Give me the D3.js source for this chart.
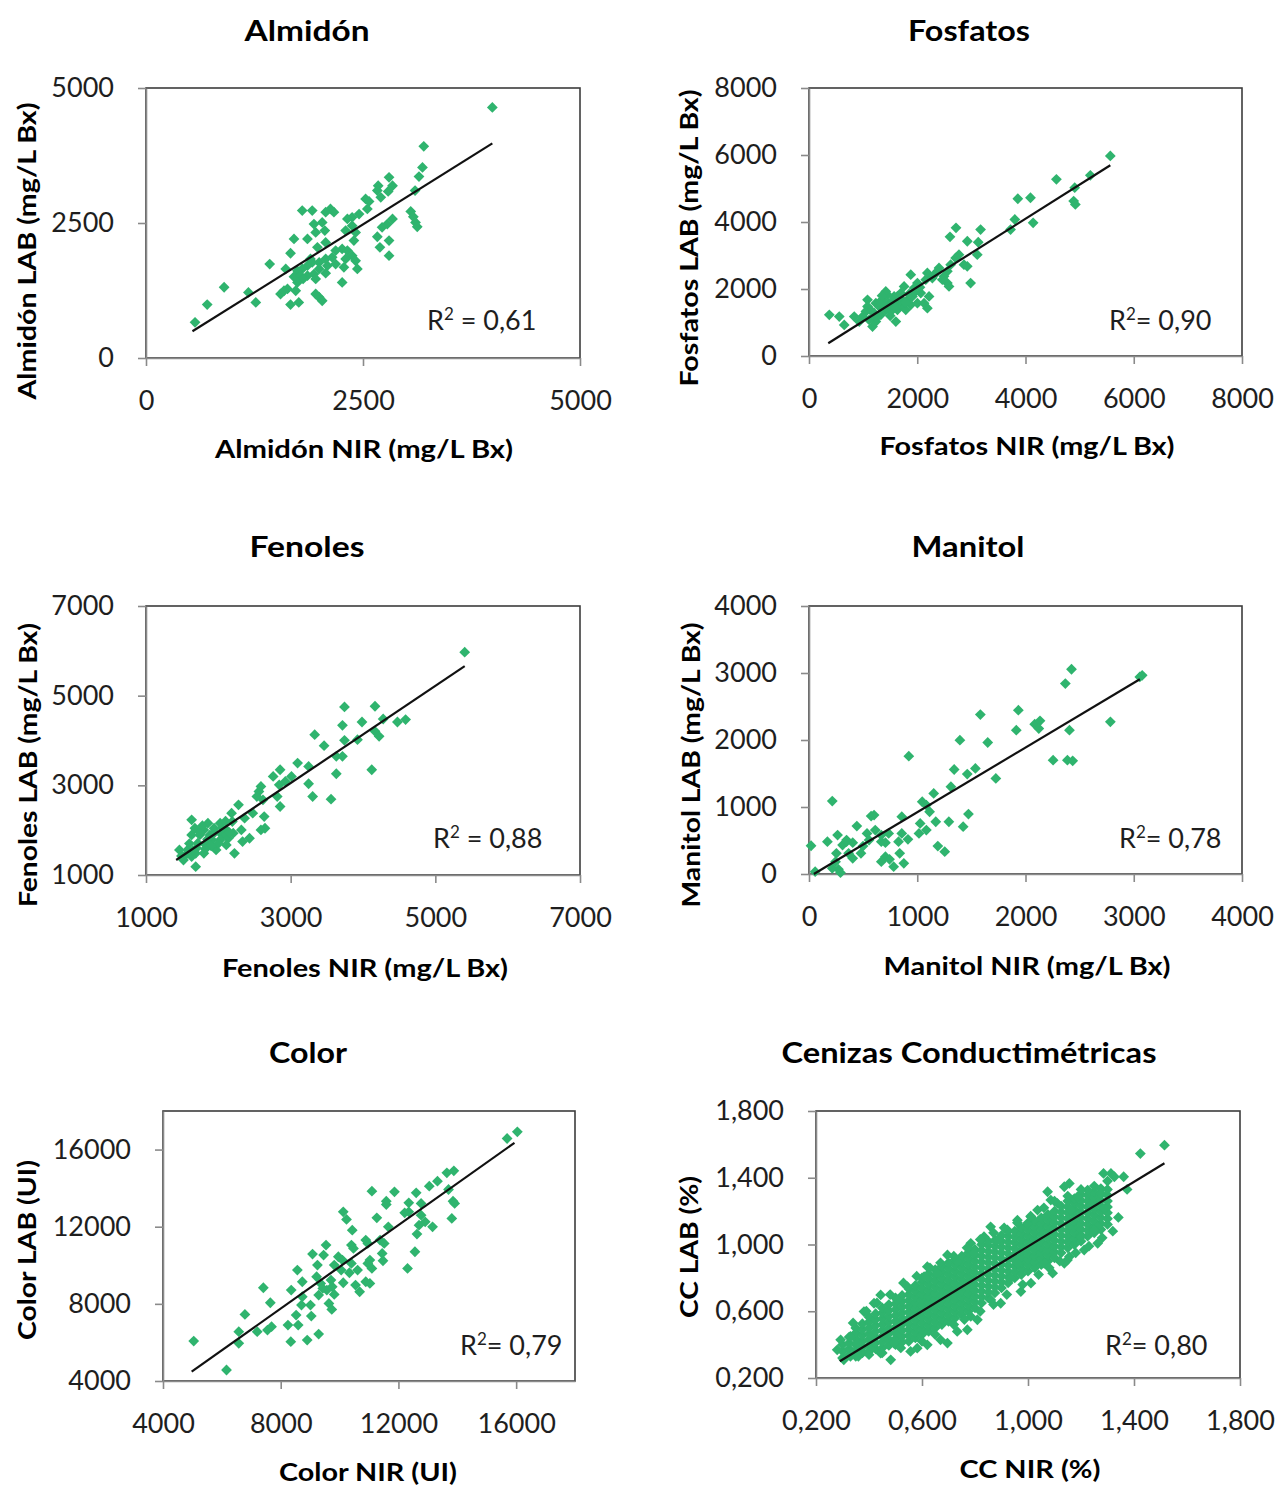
<!DOCTYPE html>
<html>
<head>
<meta charset="utf-8">
<script src="https://cdn.jsdelivr.net/npm/d3@7"></script>
<style>
  body { margin: 0; background: #fff; }
  svg { display: block; font-family: Lato, "Open Sans", sans-serif; white-space: pre; }
</style>
</head>
<body>
<div id="chart"></div>
<script>
// ---- data: [NIR, LAB] pairs ----
const almidonPts = [[3990,4640],[3200,3920],[3185,3530],[3145,3360],[3100,3100],[3050,2715],[3080,2615],[3105,2510],[3125,2430],[2800,3345],[2840,3190],[2790,3085],[2675,3190],[2665,3100],[2705,2975],[2530,2945],[2570,2900],[2840,2575],[2780,2480],[2720,2420],[2665,2245],[2800,2175],[2695,2050],[2800,1895],[2550,2760],[2455,2665],[2375,2605],[2320,2575],[2375,2450],[2415,2325],[2300,2360],[2395,2175],[2260,2020],[2320,1990],[2375,1895],[2300,1835],[2415,1800],[2280,1680],[2435,1650],[2260,1400],[2165,2700],[2125,2760],[2070,2700],[2030,2510],[1935,2480],[1955,2325],[2060,2360],[2070,2140],[1975,2050],[1800,2730],[1915,2730],[1860,2205],[1705,2205],[1665,1940],[2185,1990],[2145,1865],[2185,1740],[2090,1710],[1995,1770],[1915,1770],[1860,1710],[1800,1650],[1745,1615],[1610,1650],[1705,1505],[1780,1525],[1860,1525],[1935,1555],[1995,1650],[2070,1570],[1955,1465],[1810,1465],[1745,1400],[1630,1280],[1550,1185],[1590,1245],[1725,1245],[1760,1030],[1665,990],[1955,1185],[1995,1125],[2030,1060],[1425,1740],[1180,1215],[1265,1030],[900,1310],[705,990],[565,660],[2070,1835],[1895,1835]];
const almidonFit = [[535,495],[3990,3975]];

const fosfatosPts = [[5567,5973],[5198,5393],[4571,5273],[4909,5024],[4890,4624],[4921,4524],[3858,4694],[4092,4724],[3803,4075],[3724,3775],[4141,3975],[2716,3825],[2605,3556],[3170,3775],[2925,3426],[3127,3396],[3109,3026],[2771,3026],[2710,2926],[2863,2727],[2924,2677],[2986,2177],[2617,2727],[2556,2527],[2494,2377],[2556,2177],[2587,2077],[2372,2527],[2402,2627],[2187,2477],[2157,2277],[1880,2427],[2003,2177],[1942,2027],[2065,1878],[2218,1778],[2187,1428],[1911,1778],[1819,1678],[1696,1878],[1573,1778],[1511,1578],[1726,1528],[1880,1528],[2003,1578],[1450,1828],[1358,1678],[1297,1478],[1419,1378],[1604,1029],[1204,1278],[1235,1029],[1174,879],[1081,1678],[1081,1478],[1051,1328],[990,1178],[1112,1078],[836,1178],[651,929],[559,1178],[375,1228],[1327,1228],[1511,1328],[1634,1378],[1788,1378],[2126,1578],[2279,2327],[2464,2277],[1757,2077],[1481,1578],[1235,1578],[928,1029],[1634,1778],[1419,1928],[1300,1600],[1400,1500],[1550,1650],[1650,1600],[1700,1700],[1850,1850],[1950,1900],[1150,1350],[1250,1150],[1500,1200],[1600,1450],[1780,1600],[2050,2050],[2300,2400],[1350,1800]];
const fosfatosFit = [[356,380],[5567,5693]];

const fenolesPts = [[5406,5971],[3744,4749],[4166,4764],[3716,4339],[3986,4413],[4279,4480],[4476,4413],[4589,4466],[4166,4205],[4223,4093],[3924,4018],[3744,4003],[3332,4130],[3462,3884],[3631,3646],[3716,3646],[3096,3497],[3248,3422],[3631,3258],[4121,3348],[3011,3199],[2927,3087],[2854,3348],[2758,3199],[3248,3035],[3304,2751],[3558,2692],[2842,3012],[2814,2751],[2854,2528],[2589,2975],[2561,2863],[2532,2751],[2617,2677],[2476,2379],[2634,2304],[2645,2043],[2589,2006],[2279,2565],[2363,2267],[2431,1820],[2318,2006],[2183,2379],[2194,2193],[2206,1932],[2223,1484],[2110,2006],[2025,2155],[2054,1894],[1941,2043],[1856,2155],[1800,2006],[1744,1894],[1676,2043],[1631,2230],[1631,1894],[1716,1708],[1828,1671],[1913,1783],[1969,1559],[1800,1484],[1687,1484],[1631,1410],[1687,1186],[1490,1425],[1462,1559],[1575,1559],[1518,1335],[2025,1783],[2138,1820],[2335,1745],[2110,1671],[1884,1894],[1750,1950],[1850,1800],[1950,1950],[2050,2050],[1700,1600],[1600,1700],[1780,2100],[2100,2200],[2000,1700],[1900,1650],[2150,1950],[1650,1550],[1550,1450],[1820,1580]];
const fenolesFit = [[1417,1335],[5406,5658]];

const manitolPts = [[2425,3056],[2368,2842],[3056,2942],[3078,2966],[2784,2271],[2406,2147],[2255,1699],[2387,1699],[2436,1689],[2085,2236],[2134,2286],[2123,2171],[1934,2445],[1915,2147],[1583,2380],[1651,1963],[1394,1998],[1341,1560],[1462,1491],[1537,1575],[1726,1426],[1311,1302],[922,1759],[1152,1202],[1046,1078],[1084,1029],[1114,929],[1473,894],[1292,780],[1171,780],[1424,706],[857,855],[1027,755],[1084,656],[1016,606],[857,606],[914,517],[827,482],[736,606],[1190,417],[1254,333],[876,159],[782,109],[838,308],[706,258],[668,184],[744,219],[601,879],[574,864],[442,716],[536,606],[612,656],[555,507],[499,417],[668,482],[668,581],[706,467],[404,467],[347,507],[310,432],[366,308],[404,234],[253,308],[245,184],[272,70],[215,84],[291,20],[215,1088],[170,482],[264,581],[19,422],[57,35],[347,482],[480,308]];
const manitolFit = [[45,0],[3056,2907]];

const colorPts = [[16041,16918],[15693,16573],[13883,14897],[13646,14794],[13326,14362],[13048,14103],[13702,13930],[12770,13205],[12352,13239],[12352,12773],[12603,13757],[13855,13326],[13911,13205],[13814,12428],[11865,13809],[11099,13844],[11587,13326],[11587,13153],[12213,12721],[12770,12600],[13160,11996],[12700,12082],[12909,12255],[12630,11616],[12561,10701],[12310,9837],[11266,12462],[10125,12773],[10236,12376],[10431,11823],[11656,11996],[11378,11305],[11517,11133],[10890,11305],[10960,11133],[10403,11046],[10473,10873],[11448,10614],[11475,10234],[11030,10269],[11099,9837],[10960,10096],[10403,10096],[10612,9751],[10334,9613],[10542,8974],[10682,8628],[10890,9146],[11030,9060],[10125,9095],[10097,10269],[9958,10442],[9819,10010],[10055,9751],[9708,9233],[9750,8887],[9819,8490],[9568,8715],[9638,8024],[9735,7713],[9540,11046],[9457,10528],[9248,10010],[9081,10580],[9220,9406],[9359,9060],[9290,8456],[9429,8801],[9011,7938],[9039,7368],[8733,8369],[8705,7938],[8733,9146],[8566,9751],[8357,8715],[8524,7420],[8594,6901],[8246,6901],[8343,6038],[8900,6124],[9290,6435],[7410,8836],[7647,8058],[6784,7454],[6575,6556],[6575,5952],[7202,6556],[7550,6642],[7689,6815],[5044,6072],[6158,4570]];
const colorFit = [[4974,4484],[15943,16348]];

// CC: dense core typed column by column (NIR, then the LAB values in that column), plus the scattered fringe
const ccCore = [
  [0.300, 0.32,0.36,0.40],
  [0.325, 0.34,0.375,0.41,0.445],
  [0.350, 0.33,0.365,0.40,0.435,0.47,0.50],
  [0.375, 0.35,0.385,0.42,0.455,0.49,0.525],
  [0.400, 0.36,0.395,0.43,0.465,0.50,0.535,0.565],
  [0.425, 0.375,0.41,0.445,0.48,0.515,0.55,0.585],
  [0.450, 0.38,0.415,0.45,0.485,0.52,0.555,0.59,0.62],
  [0.475, 0.395,0.43,0.465,0.50,0.535,0.57,0.605,0.64],
  [0.500, 0.40,0.435,0.47,0.505,0.54,0.575,0.61,0.645,0.68],
  [0.525, 0.415,0.45,0.485,0.52,0.555,0.59,0.625,0.66,0.695],
  [0.550, 0.42,0.455,0.49,0.525,0.56,0.595,0.63,0.665,0.70,0.735],
  [0.575, 0.44,0.475,0.51,0.545,0.58,0.615,0.65,0.685,0.72,0.755],
  [0.600, 0.46,0.495,0.53,0.565,0.60,0.635,0.67,0.705,0.74,0.775,0.80],
  [0.625, 0.48,0.515,0.55,0.585,0.62,0.655,0.69,0.725,0.76,0.795,0.825],
  [0.650, 0.50,0.535,0.57,0.605,0.64,0.675,0.71,0.745,0.78,0.815,0.85],
  [0.675, 0.52,0.555,0.59,0.625,0.66,0.695,0.73,0.765,0.80,0.835,0.87],
  [0.700, 0.54,0.575,0.61,0.645,0.68,0.715,0.75,0.785,0.82,0.855,0.89],
  [0.725, 0.56,0.595,0.63,0.665,0.70,0.735,0.77,0.805,0.84,0.875,0.91],
  [0.750, 0.58,0.615,0.65,0.685,0.72,0.755,0.79,0.825,0.86,0.895,0.93],
  [0.775, 0.60,0.635,0.67,0.705,0.74,0.775,0.81,0.845,0.88,0.915,0.95],
  [0.800, 0.62,0.655,0.69,0.725,0.76,0.795,0.83,0.865,0.90,0.935,0.97],
  [0.825, 0.65,0.685,0.72,0.755,0.79,0.825,0.86,0.895,0.93,0.965,1.00],
  [0.850, 0.68,0.715,0.75,0.785,0.82,0.855,0.89,0.925,0.96,0.995,1.02],
  [0.875, 0.71,0.745,0.78,0.815,0.85,0.885,0.92,0.955,0.99,1.025],
  [0.900, 0.74,0.775,0.81,0.845,0.88,0.915,0.95,0.985,1.02,1.055],
  [0.925, 0.77,0.805,0.84,0.875,0.91,0.945,0.98,1.015,1.05,1.08],
  [0.950, 0.80,0.835,0.87,0.905,0.94,0.975,1.01,1.045,1.08],
  [0.975, 0.82,0.855,0.89,0.925,0.96,0.995,1.03,1.065,1.10],
  [1.000, 0.84,0.875,0.91,0.945,0.98,1.015,1.05,1.085,1.12],
  [1.025, 0.86,0.895,0.93,0.965,1.00,1.035,1.07,1.105,1.14],
  [1.050, 0.88,0.915,0.95,0.985,1.02,1.055,1.09,1.125,1.16],
  [1.075, 0.90,0.935,0.97,1.005,1.04,1.075,1.11,1.145,1.18],
  [1.100, 0.92,0.955,0.99,1.025,1.06,1.095,1.13,1.165,1.20],
  [1.125, 0.95,0.985,1.02,1.055,1.09,1.125,1.16,1.195,1.23],
  [1.150, 0.98,1.015,1.05,1.085,1.12,1.155,1.19,1.225,1.26],
  [1.175, 1.00,1.035,1.07,1.105,1.14,1.175,1.21,1.245,1.275],
  [1.200, 1.02,1.055,1.09,1.125,1.16,1.195,1.23,1.265,1.30],
  [1.225, 1.05,1.085,1.12,1.155,1.19,1.225,1.26,1.295],
  [1.250, 1.07,1.105,1.14,1.175,1.21,1.245,1.28,1.315],
  [1.275, 1.09,1.125,1.16,1.195,1.23,1.265,1.30,1.335],
  [1.300, 1.12,1.155,1.19,1.225,1.26,1.295,1.33]
];
const ccFringe = [[1.515,1.595],[1.424,1.545],[1.341,1.162],[1.374,1.330],[1.361,1.406],[1.326,1.406],[1.285,1.426],[1.313,1.426],[1.225,1.326],[1.275,1.306],[1.237,1.236],[1.288,1.216],[1.156,1.366],[1.137,1.346],[1.074,1.316],[1.086,1.266],[1.162,1.206],[1.263,1.107],[1.250,1.087],[1.200,1.047],[1.156,0.927],[1.149,0.907],[1.093,0.828],[1.061,0.887],[1.011,0.768],[0.973,0.718],[0.960,0.887],[0.935,0.798],[0.897,0.648],[0.860,0.668],[0.809,0.549],[0.784,0.569],[0.771,0.489],[0.733,0.479],[0.696,0.409],[0.670,0.429],[0.620,0.399],[0.582,0.379],[0.557,0.359],[0.494,0.409],[0.482,0.309],[0.444,0.349],[0.406,0.369],[0.356,0.409],[0.330,0.329],[0.305,0.309],[0.280,0.369],[0.293,0.429],[0.330,0.449],[0.381,0.598],[0.444,0.698],[0.419,0.648],[0.507,0.668],[0.545,0.748],[0.608,0.808],[0.620,0.867],[0.658,0.828],[0.696,0.937],[0.733,0.897],[0.784,1.007],[0.796,0.947],[0.834,1.047],[0.859,1.106],[0.885,1.027],[0.922,1.087],[0.960,1.146],[0.998,1.127],[1.036,1.206],[1.011,1.166],[1.111,1.246],[1.187,1.286],[1.212,0.967],[1.137,0.887],[1.263,1.007],[0.52,0.38],[0.60,0.42],[0.65,0.46],[0.72,0.52],[0.76,0.55],[0.82,0.60],[0.87,0.64],[0.92,0.70],[0.98,0.76],[1.04,0.82],[1.08,0.86],[1.12,0.90],[1.18,0.95],[1.23,0.99],[1.28,1.04],[1.32,1.08],[0.45,0.35],[0.40,0.34],[0.36,0.33],[0.34,0.53],[0.39,0.60],[0.43,0.65],[0.48,0.70],[0.53,0.77],[0.58,0.81],[0.63,0.86],[0.67,0.89],[0.72,0.93],[0.77,0.98],[0.82,1.03],[0.87,1.07],[0.91,1.10],[0.96,1.13],[1.01,1.17],[1.06,1.22],[1.10,1.26],[1.15,1.29],[1.20,1.33],[1.25,1.35],[1.30,1.38]];
const ccFit = [[0.29,0.30],[1.515,1.487]];

const titles = ["Almidón", "Fosfatos", "Fenoles", "Manitol", "Color", "Cenizas Conductimétricas"];
const xLabels = ["Almidón NIR (mg/L Bx)", "Fosfatos NIR (mg/L Bx)", "Fenoles NIR (mg/L Bx)", "Manitol NIR (mg/L Bx)", "Color NIR (UI)", "CC  NIR (%)"];
const yLabels = ["Almidón LAB (mg/L Bx)", "Fosfatos LAB  (mg/L Bx)", "Fenoles LAB (mg/L Bx)", "Manitol LAB (mg/L Bx)", "Color LAB (UI)", "CC  LAB (%)"];
const r2Text = [" = 0,61", "= 0,90", " = 0,88", "= 0,78", "= 0,79", "= 0,80"];
const xTickVals = [[0,2500,5000],[0,2000,4000,6000,8000],[1000,3000,5000,7000],[0,1000,2000,3000,4000],[4000,8000,12000,16000],[0.2,0.6,1.0,1.4,1.8]];
const yTickVals = [[0,2500,5000],[0,2000,4000,6000,8000],[1000,3000,5000,7000],[0,1000,2000,3000,4000],[4000,8000,12000,16000],[0.2,0.6,1.0,1.4,1.8]];
const domains = [[0,5000],[0,8000],[1000,7000],[0,4000],[4000,18000],[0.2,1.8]];

const ccPts = ccCore.flatMap(([nir, ...labs]) => labs.map(v => [nir, v])).concat(ccFringe);
const series = [almidonPts, fosfatosPts, fenolesPts, manitolPts, colorPts, ccPts];
const fits = [almidonFit, fosfatosFit, fenolesFit, manitolFit, colorFit, ccFit];

// ---- layout (pixels) ----
const intFmt = d3.format("d");
const ccFmt = d => d3.format(".3f")(d).replace(".", ",");
const layout = [
  {box:[146,88,580,358],   title:[307,41,125],   xl:[364,458,298],  yl:[27,251,297],   r2:[427,330], fmt:intFmt},
  {box:[809,88,1242,356],  title:[969,41,122],   xl:[1027,455,295], yl:[689,238,297],  r2:[1109,330], fmt:intFmt},
  {box:[146,606,580,875],  title:[307,557,115],  xl:[365,977,286],  yl:[28,765,284],   r2:[433,848], fmt:intFmt},
  {box:[809,606,1242,874], title:[968,557,113],  xl:[1027,975,287], yl:[691,765,285],  r2:[1119,848], fmt:intFmt},
  {box:[163,1111,575,1381],title:[308,1063,78],  xl:[368,1481,178], yl:[27,1250,180],  r2:[460,1355], fmt:intFmt},
  {box:[816,1111,1240,1378],title:[969,1063,375],xl:[1030,1478,141],yl:[689,1247,142], r2:[1105,1355], fmt:ccFmt}
];

const svg = d3.select("#chart").append("svg")
  .attr("width", 1282)
  .attr("height", 1486);

const diamond = "M0,-5.4L5.4,0L0,5.4L-5.4,0Z";

layout.forEach((L, i) => {
  const [x0, y0, x1, y1] = L.box;
  const x = d3.scaleLinear().domain(domains[i]).range([x0, x1]);
  const y = d3.scaleLinear().domain(domains[i]).range([y1, y0]);
  const g = svg.append("g");

  // plot frame (top/right edges dark)
  g.append("rect")
    .attr("x", x0).attr("y", y0)
    .attr("width", x1 - x0).attr("height", y1 - y0)
    .attr("fill", "none")
    .attr("stroke", "#3c3c3c")
    .attr("stroke-width", 1.6);

  const xAxis = g.append("g")
    .attr("transform", `translate(0,${y1})`)
    .call(d3.axisBottom(x).tickValues(xTickVals[i]).tickFormat(L.fmt)
      .tickSize(8).tickSizeOuter(0).tickPadding(25));
  const yAxis = g.append("g")
    .attr("transform", `translate(${x0},0)`)
    .call(d3.axisLeft(y).tickValues(yTickVals[i]).tickFormat(L.fmt)
      .tickSize(8).tickSizeOuter(0).tickPadding(24));

  [xAxis, yAxis].forEach(a => {
    a.select(".domain").attr("stroke", "#8a8a8a").attr("stroke-width", 1.6);
    a.selectAll(".tick line").attr("stroke", "#8a8a8a").attr("stroke-width", 1.6);
    a.selectAll(".tick text")
      .attr("fill", "#1e1e1e")
      .style("font-family", "Lato")
      .style("font-size", "27px");
  });

  // markers
  g.append("g").selectAll("path")
    .data(series[i])
    .join("path")
    .attr("d", diamond)
    .attr("transform", d => `translate(${x(d[0])},${y(d[1])})`)
    .attr("fill", "#2fb46e");

  // trendline
  g.append("path")
    .attr("d", d3.line().x(d => x(d[0])).y(d => y(d[1]))(fits[i]))
    .attr("fill", "none")
    .attr("stroke", "#111")
    .attr("stroke-width", 2.2);

  // R² label
  const r2 = g.append("text")
    .attr("x", L.r2[0]).attr("y", L.r2[1])
    .attr("fill", "#1e1e1e")
    .style("font-size", "27px");
  r2.append("tspan").text("R");
  r2.append("tspan").attr("dy", -10).style("font-size", "17px").text("2");
  r2.append("tspan").attr("dy", 10).text(r2Text[i]);

  // title
  g.append("text")
    .attr("x", L.title[0]).attr("y", L.title[1])
    .attr("text-anchor", "middle")
    .attr("textLength", L.title[2]).attr("lengthAdjust", "spacingAndGlyphs")
    .style("font-size", "28px").style("font-weight", "bold")
    .text(titles[i]);

  // x label
  g.append("text")
    .attr("x", L.xl[0]).attr("y", L.xl[1])
    .attr("text-anchor", "middle")
    .attr("textLength", L.xl[2]).attr("lengthAdjust", "spacingAndGlyphs")
    .style("font-size", "25px").style("font-weight", "bold")
    .text(xLabels[i]);

  // y label
  g.append("text")
    .attr("transform", `translate(${L.yl[0]},${L.yl[1]}) rotate(-90)`)
    .attr("text-anchor", "middle")
    .attr("dy", "0.35em")
    .attr("textLength", L.yl[2]).attr("lengthAdjust", "spacingAndGlyphs")
    .style("font-size", "25px").style("font-weight", "bold")
    .text(yLabels[i]);
});
</script>
</body>
</html>
